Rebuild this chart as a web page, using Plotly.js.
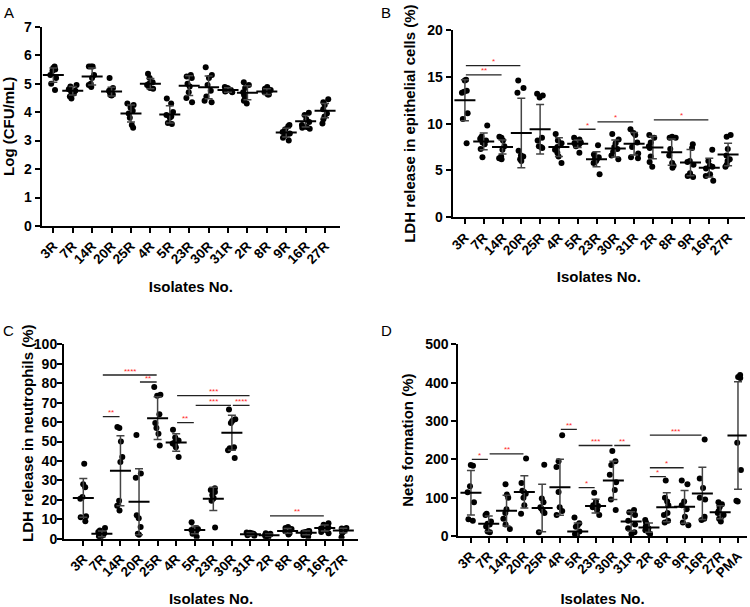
<!DOCTYPE html>
<html><head><meta charset="utf-8">
<script src="https://cdn.plot.ly/plotly-3.0.1.min.js"></script>
<style>body{margin:0;background:#fff}#chart{width:750px;height:607px}</style>
</head><body><div id="chart"></div><script>
// ---------- categories ----------
const isolates = ['3R','7R','14R','20R','25R','4R','5R','23R','30R','31R','2R','8R','9R','16R','27R'];
const isolatesD = ['3R','7R','14R','20R','25R','4R','5R','23R','30R','31R','2R','8R','9R','16R','27R','PMA'];

// ---------- Panel A: Log (CFU/mL) ----------
const cfuPoints = [
  [5.55,5.6,5.5,5.45,5.3,5.2,5.0,4.78],
  [4.95,4.9,4.8,4.75,4.7,4.65,4.55,4.48],
  [5.6,5.6,5.6,5.3,5.2,5.0,4.95,4.88],
  [5.2,4.85,4.75,4.7,4.65,4.62,4.6,4.58],
  [4.3,4.25,4.15,4.05,3.95,3.8,3.55,3.45],
  [5.35,5.2,5.05,5.0,4.95,4.9,4.85,4.82],
  [4.48,4.3,4.0,3.9,3.85,3.8,3.62,3.58],
  [5.3,5.25,5.2,5.0,4.9,4.7,4.5,4.35],
  [5.58,5.3,5.2,4.95,4.75,4.55,4.4,4.35],
  [4.88,4.85,4.8,4.78,4.75,4.72,4.72,4.7],
  [5.05,4.95,4.85,4.7,4.6,4.5,4.4,4.3],
  [4.88,4.82,4.78,4.72,4.7,4.65,4.62,4.62],
  [3.55,3.5,3.4,3.3,3.25,3.2,3.1,3.0],
  [3.98,3.9,3.75,3.65,3.55,3.48,3.45,3.42],
  [4.45,4.35,4.25,4.1,3.95,3.85,3.75,3.6]
];
const cfuMean = [5.3,4.75,5.25,4.72,3.95,5.0,3.92,4.93,4.87,4.78,4.68,4.72,3.28,3.68,4.05];
const cfuSD   = [0.25,0.15,0.3,0.15,0.3,0.18,0.3,0.35,0.4,0.08,0.25,0.1,0.15,0.2,0.25];

// ---------- Panel B: LDH release in epithelial cells (%) ----------
const ldhEpiPoints = [
  [14.7,14.6,13.4,13.3,13.5,11.1,10.5,7.9],
  [9.8,8.6,8.4,8.2,8.0,7.8,7.3,6.4],
  [8.6,8.5,8.2,7.6,7.2,6.5,6.3,6.2],
  [14.6,13.8,13.3,7.1,6.6,6.5,6.2,6.0],
  [13.2,13.0,12.8,8.5,8.2,7.6,7.5,7.4],
  [8.9,8.2,7.9,7.5,7.2,6.9,6.5,5.8],
  [8.5,8.3,8.0,7.9,7.8,7.7,7.6,6.9],
  [7.7,6.7,6.4,6.3,6.2,6.0,5.8,4.6],
  [8.9,8.3,7.9,7.5,7.3,7.0,6.6,6.2],
  [9.4,9.0,8.8,8.0,7.5,6.8,6.4,6.3],
  [8.8,8.5,8.0,7.6,7.4,6.5,5.9,5.4],
  [8.6,8.5,8.5,7.3,6.6,5.8,5.5,5.3],
  [7.8,7.4,6.0,5.9,5.6,4.7,4.4,4.3],
  [7.2,6.0,5.5,5.4,5.2,4.6,4.4,3.9],
  [8.8,8.6,7.3,6.6,6.2,6.0,5.6,5.4]
];
const ldhEpiMean = [12.5,8.1,7.5,9.0,9.4,7.5,7.85,6.2,7.35,7.85,7.45,6.95,5.85,5.3,6.7];
const ldhEpiSD   = [2.2,0.9,0.75,3.7,2.65,1.0,0.4,0.8,0.9,1.2,1.2,1.4,1.4,1.0,1.2];
const sigEpi = [ // [from, to, level, label]
  ['3R','20R',16.2,'*'], ['3R','14R',15.2,'**'],
  ['5R','23R',9.4,'*'], ['23R','31R',10.2,'*'], ['2R','16R',10.4,'*']
];

// ---------- Panel C: LDH release in neutrophils (%) ----------
const ldhNeuPoints = [
  [38.5,28,26.5,21.5,20.5,11.5,11,9],
  [5.5,4.2,3.5,2.8,2.2,1.8,1.2,0.8],
  [57.5,57,50,42,39.5,19.5,17,14.5],
  [53.3,33.6,31.4,12,10.5,6,2.5,2],
  [78,74,73.5,64,59.5,57,54,48],
  [56,52,50.5,49.5,49,48.5,47,42],
  [8.5,5.5,5,4.5,4,3.5,2.5,1],
  [26,25,24,22.5,21,20.5,19.5,5.8],
  [66.5,61.5,60.5,59.5,47,46.5,45.5,41.5],
  [3.2,3,2.8,2.5,2.3,2,1.8,1.5],
  [2.8,2.5,2.2,1.8,1.5,1.2,1,0.8],
  [6,5.5,5,4.2,3.8,3.2,2.8,2.2],
  [4,3.8,3.5,3.2,3,2.5,1.8,1],
  [8,7.2,6.5,5.8,5.2,4.5,3.5,2.8],
  [5.5,5.3,5,4.6,4.2,3.5,3,0.8]
];
const ldhNeuMean = [21,2.5,35,19,62,49.5,4.5,20.5,54.5,2.3,1.8,4,3,5.5,4.2];
const ldhNeuSD   = [10,1.5,18,17,11,4.5,2,6,9,0.6,0.6,1.2,1,1.5,1.2];
const sigNeu = [
  ['7R','25R',84.2,'****'], ['20R','25R',80.6,'**'], ['7R','14R',62.8,'**'],
  ['4R','31R',73.6,'***'], ['5R','30R',68.6,'***'], ['30R','31R',68.6,'****'],
  ['4R','5R',59.7,'**'], ['2R','16R',11.7,'**']
];

// ---------- Panel D: Nets formation (%) ----------
const netsPoints = [
  [185,183,130,114,88,44,40],
  [58,55,38,32,30,25,12,10],
  [135,108,100,70,60,45,30,18],
  [202,138,118,115,110,100,80,58],
  [186,98,88,75,72,65,60,10],
  [263,195,180,115,75,65,55],
  [48,33,28,24,12,5,1],
  [113,90,82,80,78,75,68,55],
  [222,195,185,160,140,120,95,68],
  [68,62,55,40,30,20,10,5],
  [42,35,30,25,20,15,10,5],
  [145,100,90,80,60,55,40,35],
  [145,135,90,80,70,50,35,28],
  [252,150,125,100,95,50,45,42],
  [88,83,75,65,60,55,45,38],
  [420,415,412,243,172,92,90]
];
const netsMean = [113,32,66,115,73,127,12,78,145,38,22,75,76,111,62,262];
const netsSD   = [58,20,40,42,62,73,22,18,50,25,12,38,43,68,17,140];
const sigNets = [
  ['3R','7R',200,'*'], ['7R','20R',214,'**'], ['4R','5R',278,'**'],
  ['5R','23R',126,'*'], ['5R','30R',236,'***'], ['30R','31R',236,'**'],
  ['2R','16R',263,'***'], ['2R','8R',155,'*'], ['2R','9R',178,'*']
];

// ---------- build ----------
const FONT = 'Liberation Sans, Arial, Helvetica, sans-serif';
const traces = [];
const shapes = [];
const annotations = [];

function addPanel(n, cats, pts, mean, sd, sig, jit) {
  const xs = [], ys = [];
  pts.forEach((arr, i) => arr.forEach(v => { xs.push(cats[i]); ys.push(v); }));
  const xa = n === 1 ? 'x' : 'x' + n, ya = n === 1 ? 'y' : 'y' + n;
  traces.push({
    type: 'box', x: xs, y: ys, xaxis: xa, yaxis: ya,
    boxpoints: 'all', jitter: jit, pointpos: 0, whiskerwidth: 0,
    fillcolor: 'rgba(0,0,0,0)', line: {color: 'rgba(0,0,0,0)', width: 0},
    marker: {color: 'black', size: 6}, showlegend: false, hoverinfo: 'y'
  });
  traces.push({
    type: 'scatter', mode: 'markers', x: cats, y: mean, xaxis: xa, yaxis: ya,
    marker: {symbol: 'line-ew', size: 15, color: 'black', line: {width: 2, color: 'black'}},
    error_y: {type: 'data', array: sd, visible: true, color: '#444', thickness: 1.5, width: 4},
    showlegend: false, hoverinfo: 'y'
  });
  sig.forEach(s => {
    const a = cats.indexOf(s[0]) + 0.05, b = cats.indexOf(s[1]) - 0.05;
    shapes.push({type: 'line', xref: xa, yref: ya, x0: a, x1: b, y0: s[2], y1: s[2],
      line: {color: '#222', width: 1.3}});
    annotations.push({xref: xa, yref: ya, x: (a + b) / 2, y: s[2], text: s[3],
      showarrow: false, yanchor: 'middle', yshift: 4,
      font: {family: FONT, size: 8, color: '#ff2a2a'}});
  });
}

addPanel(1, isolates, cfuPoints, cfuMean, cfuSD, [], 0.9);
addPanel(2, isolates, ldhEpiPoints, ldhEpiMean, ldhEpiSD, sigEpi, 0.9);
addPanel(3, isolates, ldhNeuPoints, ldhNeuMean, ldhNeuSD, sigNeu, 0.9);
addPanel(4, isolatesD, netsPoints, netsMean, netsSD, sigNets, 0.9);

function xax(dom, cats, range, standoff) {
  return {domain: dom, type: 'category', categoryorder: 'array', categoryarray: cats,
    range: range, showline: true, linecolor: 'black', linewidth: 2,
    ticks: 'outside', ticklen: 5, tickwidth: 2, tickcolor: 'black', tickangle: -45,
    tickfont: {family: FONT, size: 13.5, color: 'black', weight: 'bold'},
    showgrid: false, zeroline: false, fixedrange: true,
    title: {text: 'Isolates No.', standoff: standoff, font: {family: FONT, size: 15, color: 'black', weight: 'bold'}}};
}
function yax(dom, range, dtick, title, standoff) {
  return {domain: dom, range: range, dtick: dtick, tick0: 0, showline: true, linecolor: 'black', linewidth: 2,
    ticks: 'outside', ticklen: 5, tickwidth: 2, tickcolor: 'black',
    tickfont: {family: FONT, size: 14, color: 'black', weight: 'bold'},
    showgrid: false, zeroline: false, fixedrange: true,
    title: {text: title, standoff: standoff, font: {family: FONT, size: 15, color: 'black', weight: 'bold'}}};
}

const W = 750, H = 607;
const layout = {
  width: W, height: H, margin: {l: 0, r: 0, t: 0, b: 0},
  paper_bgcolor: 'white', plot_bgcolor: 'white', showlegend: false,
  xaxis:  Object.assign(xax([41.7/W, 340/W], isolates, [-0.6, 14.77], 16), {anchor: 'y'}),
  yaxis:  Object.assign(yax([1-226/H, 1-26.7/H], [0, 7], 1, 'Log (CFU/mL)', 8), {anchor: 'x'}),
  xaxis2: Object.assign(xax([452.7/W, 745/W], isolates, [-0.65, 14.9], 14), {anchor: 'y2'}),
  yaxis2: Object.assign(yax([1-217.3/H, 1-30/H], [0, 20], 5, 'LDH release in epithelial cells (%)', 8), {anchor: 'x2'}),
  xaxis3: Object.assign(xax([64/W, 358/W], isolates, [-1.04, 14.79], 18), {anchor: 'y3'}),
  yaxis3: Object.assign(yax([1-538.7/H, 1-344.3/H], [0, 100], 10, '', 0), {anchor: 'x3', ticklabelstandoff: -3}),
  xaxis4: Object.assign(xax([458.3/W, 746.7/W], isolatesD, [-0.71, 15.49], 18), {anchor: 'y4'}),
  yaxis4: Object.assign(yax([1-536/H, 1-344.3/H], [0, 500], 100, 'Nets formation (%)', 8), {anchor: 'x4'}),
  shapes: shapes,
  annotations: annotations.concat([
    {xref: 'paper', yref: 'paper', x: 27/W, y: 1-433/H, text: 'LDH release in neutrophils (%)', textangle: -90, showarrow: false,
     xanchor: 'center', yanchor: 'middle', font: {family: FONT, size: 15, color: 'black', weight: 'bold'}},
    {xref: 'paper', yref: 'paper', x: 2/W, y: 1-2/H, text: 'A', showarrow: false, xanchor: 'left', yanchor: 'top', font: {family: FONT, size: 15, color: 'black'}},
    {xref: 'paper', yref: 'paper', x: 379/W, y: 1-2/H, text: 'B', showarrow: false, xanchor: 'left', yanchor: 'top', font: {family: FONT, size: 15, color: 'black'}},
    {xref: 'paper', yref: 'paper', x: 1/W, y: 1-320/H, text: 'C', showarrow: false, xanchor: 'left', yanchor: 'top', font: {family: FONT, size: 15, color: 'black'}},
    {xref: 'paper', yref: 'paper', x: 379/W, y: 1-320/H, text: 'D', showarrow: false, xanchor: 'left', yanchor: 'top', font: {family: FONT, size: 15, color: 'black'}}
  ])
};

Plotly.newPlot('chart', traces, layout, {displayModeBar: false, staticPlot: true});
</script></body></html>
